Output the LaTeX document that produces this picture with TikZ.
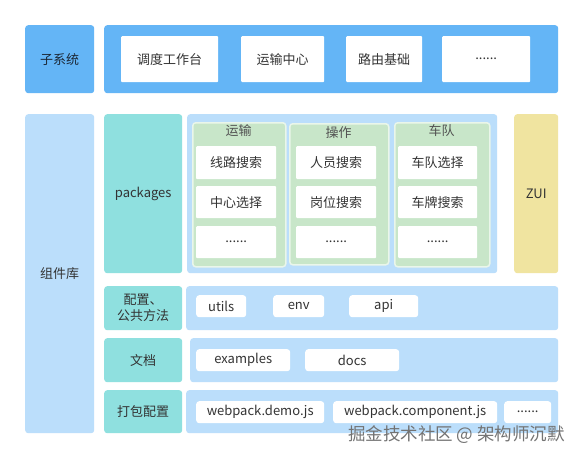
\documentclass[tikz,border=0pt]{standalone}
\usepackage{fontspec}
\setmainfont{Noto Sans CJK SC}
\definecolor{topblue}{HTML}{64B5F6}
\definecolor{lblue}{HTML}{BBDEFB}
\definecolor{teal1}{HTML}{8FE0DF}
\definecolor{grn}{HTML}{C8E6C9}
\definecolor{grnb}{HTML}{EAF6EA}
\definecolor{yel}{HTML}{F0E4A0}
\definecolor{txt}{HTML}{333333}
\definecolor{dtxt}{HTML}{1C2836}
\tikzset{
  base/.style={anchor=north west, inner sep=0pt, rounded corners=3pt, text=txt, font=\fontsize{13}{16}\selectfont, align=center},
  topbox/.style={base, fill=topblue},
  lbbox/.style={base, fill=lblue},
  tealbox/.style={base, fill=teal1},
  grpbox/.style={base, fill=grn, draw=grnb, line width=1.5pt},
  wbox/.style={base, fill=white, rounded corners=1pt},
  pill/.style={base, fill=white, rounded corners=3pt},
  yelbox/.style={base, fill=yel},
  ttl/.style={inner sep=0pt, text=txt!85, font=\fontsize{13}{16}\selectfont},
}
\begin{document}
\begin{tikzpicture}[x=1pt,y=-1pt]
\fill[white] (0,0) rectangle (583,458);
\useasboundingbox (0,0) rectangle (583,458);
% subsystem row
\node[topbox, text=dtxt, minimum width=69pt, minimum height=68pt] (sub) at (25,25) {子系统};
\node[topbox, minimum width=454pt, minimum height=68pt] (topbar) at (104,25) {};
\node[wbox, minimum width=97pt, minimum height=46pt] (t1) at (121,36) {调度工作台};
\node[wbox, minimum width=83pt, minimum height=46pt] (t2) at (241,36) {运输中心};
\node[wbox, minimum width=76pt, minimum height=46pt] (t3) at (346,36) {路由基础};
\node[wbox, minimum width=88pt, minimum height=46pt] (t4) at (442,36) {......};
% component library
\node[lbbox, minimum width=69pt, minimum height=319pt] (lib) at (25,114) {组件库};
\node[tealbox, minimum width=78pt, minimum height=159pt] (pk) at (104,114) {packages};
\node[lbbox, minimum width=310pt, minimum height=159pt] (pkc) at (187,114) {};
\node[grpbox, minimum width=93pt, minimum height=144pt] (g1) at (192,122) {};
\node[grpbox, minimum width=99pt, minimum height=141pt] (g2) at (289,123) {};
\node[grpbox, minimum width=95pt, minimum height=144pt] (g3) at (394,122) {};
\node[ttl] (g1t) at (238.5,131) {运输};
\node[ttl] (g2t) at (338.5,133) {操作};
\node[ttl] (g3t) at (441.5,131) {车队};
\node[wbox, minimum width=80pt, minimum height=33pt] (a1) at (196,146) {线路搜索};
\node[wbox, minimum width=80pt, minimum height=32pt] (a2) at (196,186) {中心选择};
\node[wbox, minimum width=80pt, minimum height=32pt] (a3) at (196,226) {......};
\node[wbox, minimum width=80pt, minimum height=33pt] (b1) at (296,146) {人员搜索};
\node[wbox, minimum width=80pt, minimum height=32pt] (b2) at (296,186) {岗位搜索};
\node[wbox, minimum width=80pt, minimum height=32pt] (b3) at (296,226) {......};
\node[wbox, minimum width=79pt, minimum height=33pt] (c1) at (398,146) {车队选择};
\node[wbox, minimum width=79pt, minimum height=32pt] (c2) at (398,186) {车牌搜索};
\node[wbox, minimum width=79pt, minimum height=32pt] (c3) at (398,226) {......};
\node[yelbox, minimum width=44pt, minimum height=159pt] (zui) at (514,114) {ZUI};
% config row
\node[tealbox, minimum width=78pt, minimum height=44pt] (cfg) at (104,286) {配置、\\公共方法};
\node[lbbox, minimum width=372pt, minimum height=44pt] (cfgr) at (186,286) {};
\node[pill, minimum width=50pt, minimum height=22pt] (utils) at (196,295) {utils};
\node[pill, minimum width=51pt, minimum height=22pt] (env) at (273,295) {env};
\node[pill, minimum width=69pt, minimum height=22pt] (api) at (349,295) {api};
% docs row
\node[tealbox, minimum width=78pt, minimum height=44pt] (doc) at (104,338) {文档};
\node[lbbox, minimum width=368pt, minimum height=44pt] (docr) at (190,338) {};
\node[pill, minimum width=94pt, minimum height=22pt] (ex) at (196,349) {examples};
\node[pill, minimum width=94pt, minimum height=22pt] (docs) at (305,349) {docs};
% pack row
\node[tealbox, minimum width=78pt, minimum height=43pt] (pack) at (104,390) {打包配置};
\node[lbbox, minimum width=372pt, minimum height=43pt] (packr) at (186,390) {};
\node[pill, minimum width=128pt, minimum height=22pt] (wd) at (196,401) {webpack.demo.js};
\node[pill, minimum width=164pt, minimum height=22pt] (wc) at (333,401) {webpack.component.js};
\node[pill, minimum width=47pt, minimum height=22pt] (wdots) at (504,401) {......};
% watermark
\node[inner sep=0pt, text=black!55, font=\fontsize{17.5}{20}\selectfont] (wm) at (456.5,435) {掘金技术社区 @ 架构师沉默};
\end{tikzpicture}
\end{document}
